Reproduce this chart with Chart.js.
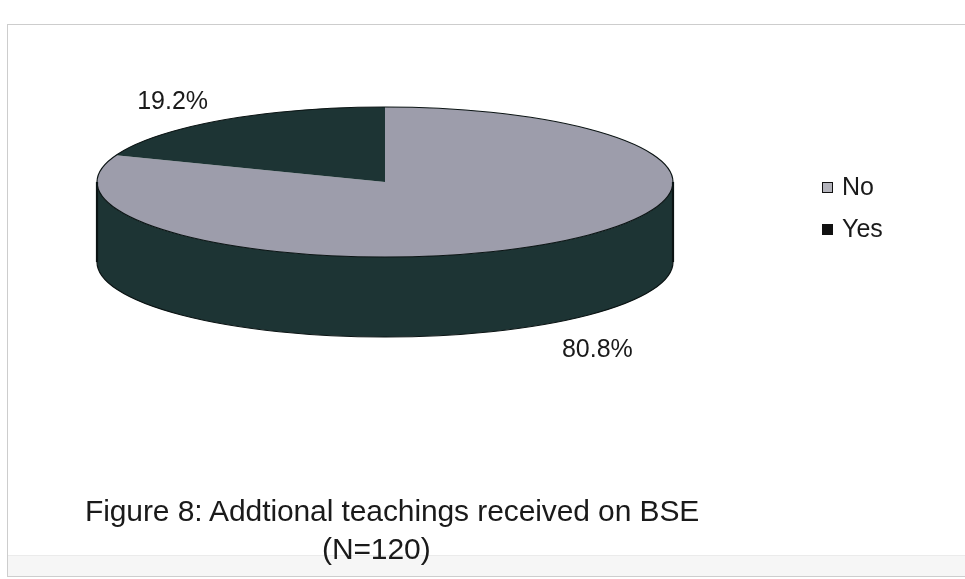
<!DOCTYPE html>
<html>
<head>
<meta charset="utf-8">
<title>Additional teachings received on BSE</title>
<script src="https://cdn.jsdelivr.net/npm/chart.js@4.4.0/dist/chart.umd.min.js"></script>
<style>
  html, body { margin: 0; padding: 0; background: #fff; }
  #wrap { position: relative; width: 965px; height: 579px; overflow: hidden;
          font-family: "Liberation Sans", Arial, sans-serif; color: #1a1a1a; }
  #frame { position: absolute; left: 7px; top: 24px; right: -2px; bottom: 2px;
           border: 1px solid #cdcdcd; border-right: none; }
  #strip { position: absolute; left: 8px; right: 0; top: 555px; bottom: 3px;
           background: #f6f6f6; border-top: 1px solid #ebebeb; }
  canvas { position: absolute; left: 0; top: 0; }
  .legend-item { position: absolute; left: 822px; font-size: 25px; line-height: 26px; }
  .legend-item .box { display: inline-block; width: 11px; height: 11px; margin-right: 9px;
                      vertical-align: 2px; box-sizing: border-box; border: 1px solid #111; }
  .caption { position: absolute; font-size: 30px; line-height: 34px; white-space: nowrap;
             letter-spacing: -0.1px; }
</style>
</head>
<body>
<div id="wrap">
  <div id="frame"></div>
  <div id="strip"></div>
  <canvas id="pieChart" width="965" height="579"></canvas>
  <div id="legend"></div>
  <div class="caption" style="left:85px; top:494px;">Figure 8: Addtional teachings received on BSE</div>
  <div class="caption" style="left:322px; top:532px;">(N=120)</div>
</div>
<script>
const labels = ['No', 'Yes'];
const values = [80.8, 19.2];
const colors = ['#9d9dab', '#1d3434'];
const sideColors = ['#1d3434', '#1d3434'];
const legendBoxes = ['#b4b4bc', '#111111'];

const tilt = 75 / 288;   // vertical squash of the top face
const depth = 80;        // height of the pie wall

// draws the front wall under the pie and squashes the slices into an ellipse
const pie3d = {
  id: 'pie3d',
  beforeDatasetsDraw(chart) {
    const ctx = chart.ctx;
    const arcs = chart.getDatasetMeta(0).data;
    const cx = arcs[0].x, cy = arcs[0].y, r = arcs[0].outerRadius;
    const ry = r * tilt;

    arcs.forEach((arc, i) => {
      // the visible part of the wall is the front half, 0..PI
      [0, 2 * Math.PI].forEach(shift => {
        const a0 = Math.max(arc.startAngle, shift);
        const a1 = Math.min(arc.endAngle, shift + Math.PI);
        if (a1 <= a0) return;
        ctx.save();
        ctx.beginPath();
        ctx.ellipse(cx, cy, r, ry, 0, a0, a1);
        ctx.ellipse(cx, cy + depth, r, ry, 0, a1, a0, true);
        ctx.closePath();
        ctx.fillStyle = sideColors[i];
        ctx.fill();
        ctx.restore();
      });
    });

    ctx.save();
    ctx.translate(cx, cy);
    ctx.scale(1, tilt);
    ctx.translate(-cx, -cy);
  },
  afterDatasetsDraw(chart) {
    const ctx = chart.ctx;
    ctx.restore();

    const arcs = chart.getDatasetMeta(0).data;
    const cx = arcs[0].x, cy = arcs[0].y, r = arcs[0].outerRadius;
    const ry = r * tilt;

    // outlines
    ctx.save();
    ctx.strokeStyle = '#0b1414';
    ctx.lineWidth = 1.2;
    ctx.beginPath();
    ctx.ellipse(cx, cy, r, ry, 0, 0, 2 * Math.PI);
    ctx.stroke();
    ctx.beginPath();
    ctx.ellipse(cx, cy + depth, r, ry, 0, 0, Math.PI);
    ctx.stroke();
    ctx.lineWidth = 2.2;
    ctx.beginPath();
    ctx.moveTo(cx - r, cy); ctx.lineTo(cx - r, cy + depth);
    ctx.moveTo(cx + r, cy); ctx.lineTo(cx + r, cy + depth);
    ctx.stroke();
    ctx.restore();

    // percentage labels outside each slice
    ctx.save();
    ctx.font = '25px "Liberation Sans", Arial, sans-serif';
    ctx.fillStyle = '#1a1a1a';
    ctx.textAlign = 'center';
    ctx.textBaseline = 'middle';
    arcs.forEach((arc, i) => {
      const mid = (arc.startAngle + arc.endAngle) / 2;
      const s = Math.sin(mid);
      const lx = cx + r * 1.3 * Math.cos(mid);
      const ly = cy + ry * 1.3 * s + (s > 0 ? depth + 8 : 0);
      ctx.fillText(values[i].toFixed(1) + '%', lx, ly);
    });
    ctx.restore();
  }
};

new Chart(document.getElementById('pieChart').getContext('2d'), {
  type: 'pie',
  data: {
    labels: labels,
    datasets: [{
      data: values,
      backgroundColor: colors,
      borderWidth: 0
    }]
  },
  options: {
    responsive: false,
    animation: false,
    radius: 288,
    layout: { padding: { left: 0, right: 195, top: 0, bottom: 215 } },
    plugins: {
      legend: { display: false },
      tooltip: { enabled: false }
    }
  },
  plugins: [pie3d]
});

// legend on the right
const legend = document.getElementById('legend');
labels.forEach((name, i) => {
  const item = document.createElement('div');
  item.className = 'legend-item';
  item.style.top = (173 + i * 42) + 'px';
  item.innerHTML = '<span class="box" style="background:' + legendBoxes[i] + '"></span>' + name;
  legend.appendChild(item);
});
</script>
</body>
</html>
